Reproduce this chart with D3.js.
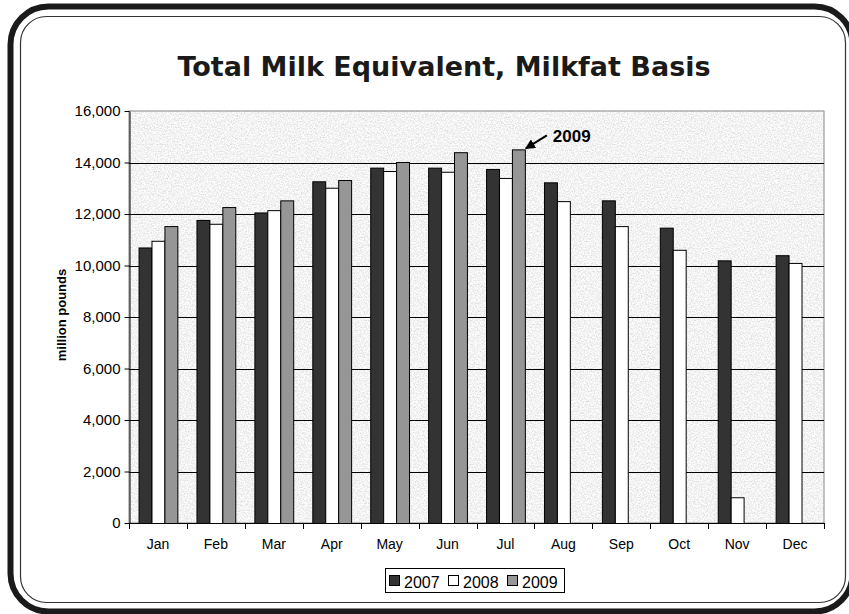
<!DOCTYPE html>
<html>
<head>
<meta charset="utf-8">
<script src="https://cdn.jsdelivr.net/npm/d3@7"></script>
<style>
  body { margin: 0; background: #fff; }
  svg { display: block; font-family: "Liberation Sans", Arial, sans-serif; }
</style>
</head>
<body>
<svg width="849" height="614"></svg>
<script>
// data
const months = ["Jan", "Feb", "Mar", "Apr", "May", "Jun", "Jul", "Aug", "Sep", "Oct", "Nov", "Dec"];
const years = ["2007", "2008", "2009"];
const v2007 = [10700, 11770, 12060, 13270, 13800, 13800, 13750, 13230, 12530, 11470, 10200, 10400];
const v2008 = [10960, 11620, 12150, 13020, 13670, 13640, 13400, 12500, 11530, 10610, 1000, 10100];
const v2009 = [11530, 12270, 12530, 13320, 14020, 14400, 14510, null, null, null, null, null];
const yTicks = [0, 2000, 4000, 6000, 8000, 10000, 12000, 14000, 16000];
const colors = { "2007": "#333333", "2008": "#ffffff", "2009": "#969696" };

const series = { "2007": v2007, "2008": v2008, "2009": v2009 };
const rows = [];
months.forEach((m, i) => {
  years.forEach(yr => {
    if (series[yr][i] != null) rows.push({ month: m, year: yr, value: series[yr][i] });
  });
});

const svg = d3.select("svg");
const pLeft = 129, pRight = 824, pTop = 111, pBottom = 523;

// frame (outer heavy line runs off the right edge, like the original)
svg.append("rect")
  .attr("x", 10.5).attr("y", 6.5).attr("width", 842).attr("height", 605)
  .attr("rx", 38).attr("ry", 38)
  .attr("fill", "none").attr("stroke", "#1a1a1a").attr("stroke-width", 6);
svg.append("rect")
  .attr("x", 20.5).attr("y", 16.5).attr("width", 825).attr("height", 586)
  .attr("rx", 26).attr("ry", 26)
  .attr("fill", "none").attr("stroke", "#333").attr("stroke-width", 1.2);

// granite texture for plot area
const defs = svg.append("defs");
const f = defs.append("filter").attr("id", "granite")
  .attr("x", 0).attr("y", 0).attr("width", "100%").attr("height", "100%");
f.append("feTurbulence").attr("type", "fractalNoise")
  .attr("baseFrequency", 0.7).attr("numOctaves", 3).attr("seed", 7);
f.append("feColorMatrix").attr("type", "matrix")
  .attr("values", "0.55 0 0 0 0.62  0.55 0 0 0 0.62  0.55 0 0 0 0.62  0 0 0 0 1");
defs.append("marker").attr("id", "arrow")
  .attr("viewBox", "0 0 10 10").attr("refX", 9).attr("refY", 5)
  .attr("markerWidth", 5).attr("markerHeight", 5).attr("orient", "auto")
  .append("path").attr("d", "M0,0L10,5L0,10Z").attr("fill", "#000");

const x = d3.scaleBand().domain(months).range([pLeft, pRight])
  .paddingInner(0.33).paddingOuter(0.165);
const xs = d3.scaleBand().domain(years).range([0, x.bandwidth()]);
const y = d3.scaleLinear().domain([0, 16000]).range([pBottom, pTop]);

svg.append("rect")
  .attr("x", pLeft).attr("y", pTop).attr("width", pRight - pLeft).attr("height", pBottom - pTop)
  .attr("filter", "url(#granite)");
svg.append("rect")
  .attr("x", pLeft).attr("y", pTop).attr("width", pRight - pLeft).attr("height", pBottom - pTop)
  .attr("fill", "none").attr("stroke", "#888").attr("stroke-width", 1);

// gridlines
svg.append("g").selectAll("line")
  .data(yTicks.filter(t => t > 0 && t < 16000))
  .join("line")
  .attr("x1", pLeft).attr("x2", pRight)
  .attr("y1", d => Math.round(y(d)) + 0.5).attr("y2", d => Math.round(y(d)) + 0.5)
  .attr("stroke", "#000").attr("stroke-width", 1);

// bars
svg.append("g").selectAll("rect")
  .data(rows)
  .join("rect")
  .attr("x", d => x(d.month) + xs(d.year) + 0.5)
  .attr("y", d => y(d.value) + 0.5)
  .attr("width", xs.bandwidth())
  .attr("height", d => pBottom - y(d.value))
  .attr("fill", d => colors[d.year])
  .attr("stroke", "#000").attr("stroke-width", 1);

// y axis
const yAxis = svg.append("g").attr("transform", `translate(${pLeft + 0.5},0)`)
  .call(d3.axisLeft(y).tickValues(yTicks).tickFormat(d3.format(",")).tickSize(5).tickSizeOuter(0).tickPadding(4));
yAxis.select(".domain").attr("stroke", "#000");
yAxis.selectAll("text").attr("font-size", 15).attr("fill", "#000").attr("font-family", "Liberation Sans, Arial, sans-serif");

// x axis with ticks between categories
svg.append("line").attr("x1", pLeft).attr("x2", pRight)
  .attr("y1", pBottom + 0.5).attr("y2", pBottom + 0.5).attr("stroke", "#000");
const step = x.step();
svg.append("g").selectAll("line")
  .data(d3.range(months.length + 1))
  .join("line")
  .attr("x1", i => Math.round(pLeft + i * step) + 0.5).attr("x2", i => Math.round(pLeft + i * step) + 0.5)
  .attr("y1", pBottom).attr("y2", pBottom + 6)
  .attr("stroke", "#000");
svg.append("g").selectAll("text")
  .data(months)
  .join("text")
  .attr("x", d => x(d) + x.bandwidth() / 2)
  .attr("y", 549)
  .attr("text-anchor", "middle")
  .attr("font-size", 14)
  .text(d => d);

// y title
svg.append("text")
  .attr("transform", "translate(66,315) rotate(-90)")
  .attr("text-anchor", "middle")
  .attr("font-size", 13).attr("font-weight", "bold")
  .text("million pounds");

// title
svg.append("text")
  .attr("x", 444).attr("y", 76)
  .attr("text-anchor", "middle")
  .attr("font-family", "DejaVu Sans, Verdana, sans-serif")
  .attr("font-size", 27).attr("font-weight", "bold")
  .attr("fill", "#1a1a1a")
  .text("Total Milk Equivalent, Milkfat Basis");

// annotation
const jul = v2009[months.indexOf("Jul")];
const tipX = x("Jul") + xs("2009") + xs.bandwidth();
svg.append("line")
  .attr("x1", tipX + 22).attr("y1", y(jul) - 14)
  .attr("x2", tipX + 1).attr("y2", y(jul) - 1)
  .attr("stroke", "#000").attr("stroke-width", 2)
  .attr("marker-end", "url(#arrow)");
svg.append("text")
  .attr("x", tipX + 28).attr("y", y(jul) - 7)
  .attr("font-size", 17).attr("font-weight", "bold")
  .text("2009");

// legend
const lg = svg.append("g").attr("transform", "translate(385,568)");
lg.append("rect").attr("x", 0.5).attr("y", 0.5).attr("width", 179).attr("height", 24)
  .attr("fill", "#fff").attr("stroke", "#000");
const li = lg.selectAll("g.item").data(years).join("g")
  .attr("class", "item")
  .attr("transform", (d, i) => `translate(${4 + i * 59},0)`);
li.append("rect").attr("x", 0.5).attr("y", 7.5).attr("width", 10).attr("height", 10)
  .attr("fill", d => colors[d]).attr("stroke", "#000");
li.append("text").attr("x", 15).attr("y", 19.5)
  .attr("font-size", 16).text(d => d);
</script>
</body>
</html>
